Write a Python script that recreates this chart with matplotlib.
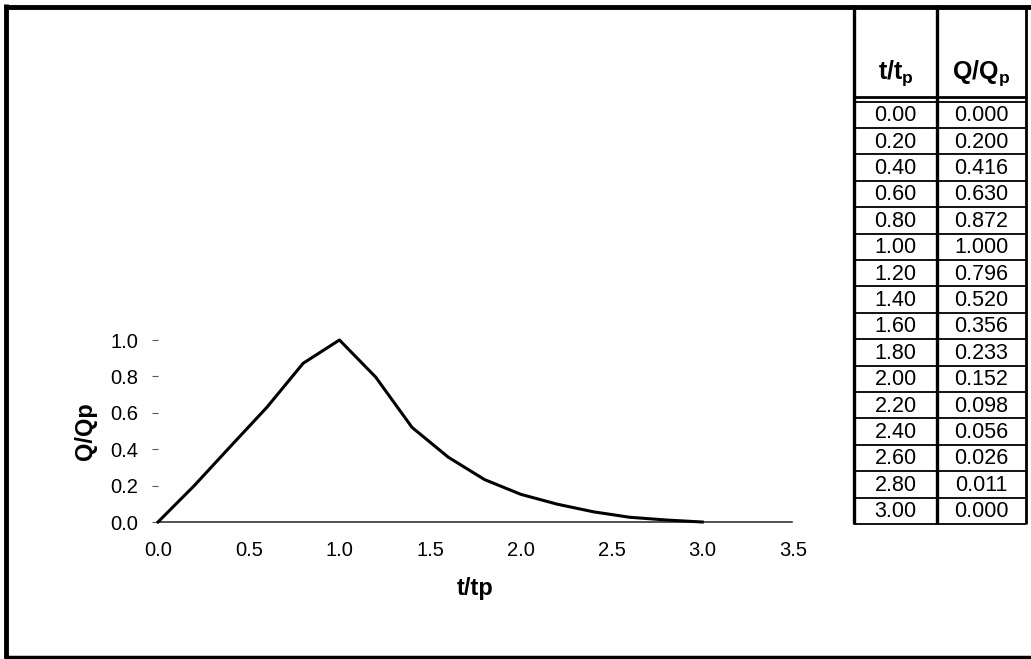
import matplotlib.pyplot as plt
from matplotlib.lines import Line2D

plt.rcParams['font.family'] = ['Liberation Sans', 'DejaVu Sans']
plt.rcParams['mathtext.fontset'] = 'custom'
plt.rcParams['mathtext.rm'] = 'Liberation Sans'
plt.rcParams['mathtext.bf'] = 'Liberation Sans:bold'

# unit hydrograph ordinates
t_ratio = [0.00, 0.20, 0.40, 0.60, 0.80, 1.00, 1.20, 1.40, 1.60, 1.80,
           2.00, 2.20, 2.40, 2.60, 2.80, 3.00]
q_ratio = [0.000, 0.200, 0.416, 0.630, 0.872, 1.000, 0.796, 0.520, 0.356, 0.233,
           0.152, 0.098, 0.056, 0.026, 0.011, 0.000]
x_ticks = [0.0, 0.5, 1.0, 1.5, 2.0, 2.5, 3.0, 3.5]
y_ticks = [0.0, 0.2, 0.4, 0.6, 0.8, 1.0]

W, H = 1031, 659
fig = plt.figure(figsize=(W / 100, H / 100), dpi=100)

# chart area in pixels: x 158..793, y 340..522
ax = fig.add_axes([158 / W, 1 - 522 / H, (793 - 158) / W, (522 - 340) / H])
ax.plot(t_ratio, q_ratio, color='black', lw=2.2, clip_on=False, zorder=3,
        solid_joinstyle='round')
ax.set_xlim(0, 3.5)
ax.set_ylim(0, 1.0)
ax.set_xticks(x_ticks)
ax.set_xticklabels(['%.1f' % v for v in x_ticks])
ax.set_yticks(y_ticks)
ax.set_yticklabels(['%.1f' % v for v in y_ticks])
for s in ['top', 'right', 'left']:
    ax.spines[s].set_visible(False)
ax.spines['bottom'].set_linestyle((0, (3, 1)))
ax.spines['bottom'].set_color('#222222')
ax.spines['bottom'].set_linewidth(1.1)
ax.tick_params(axis='x', length=0, pad=14, labelsize=14.5)
ax.tick_params(axis='y', length=4, width=0.8, color='#555555', pad=10, labelsize=14.5)
ax.set_xlabel('t/tp', fontsize=17, fontweight='bold', labelpad=12)
ax.set_ylabel('Q/Qp', fontsize=17, fontweight='bold', labelpad=10)

# overlay in pixel coordinates for border and table
ov = fig.add_axes([0, 0, 1, 1], zorder=5)
ov.set_xlim(0, W)
ov.set_ylim(H, 0)
ov.axis('off')
ov.patch.set_alpha(0)


def seg(x0, y0, x1, y1, lw):
    ov.add_line(Line2D([x0, x1], [y0, y1], color='black', lw=lw, solid_capstyle='butt'))


# figure border (left, top, bottom)
seg(5.5, 4, 5.5, 658, 3.5)
seg(4, 6.5, W, 6.5, 3.5)
seg(4, 657, W, 657, 2.5)

# table
xl, xm, xr = 854, 937, 1026
top_rows, row_h = 101.5, 26.4
bottom = top_rows + row_h * len(t_ratio)
seg(xl, 5, xl, bottom, 2.4)
seg(xm, 5, xm, bottom, 2.4)
seg(xr, 5, xr, bottom, 2.0)
seg(xl, 97, xr, 97, 2.0)
for i in range(len(t_ratio) + 1):
    seg(xl, top_rows + i * row_h, xr, top_rows + i * row_h, 1.3)

ov.text((xl + xm) / 2, 73, r'$\mathbf{t/t_p}$', ha='center', va='center', fontsize=18)
ov.text((xm + xr) / 2, 73, r'$\mathbf{Q/Q_p}$', ha='center', va='center', fontsize=18)
for i, (t, q) in enumerate(zip(t_ratio, q_ratio)):
    yc = top_rows + (i + 0.5) * row_h + 1
    ov.text((xl + xm) / 2, yc, '%.2f' % t, ha='center', va='center', fontsize=15.5)
    ov.text((xm + xr) / 2, yc, '%.3f' % q, ha='center', va='center', fontsize=15.5)

fig.savefig('out.png', dpi=100)
